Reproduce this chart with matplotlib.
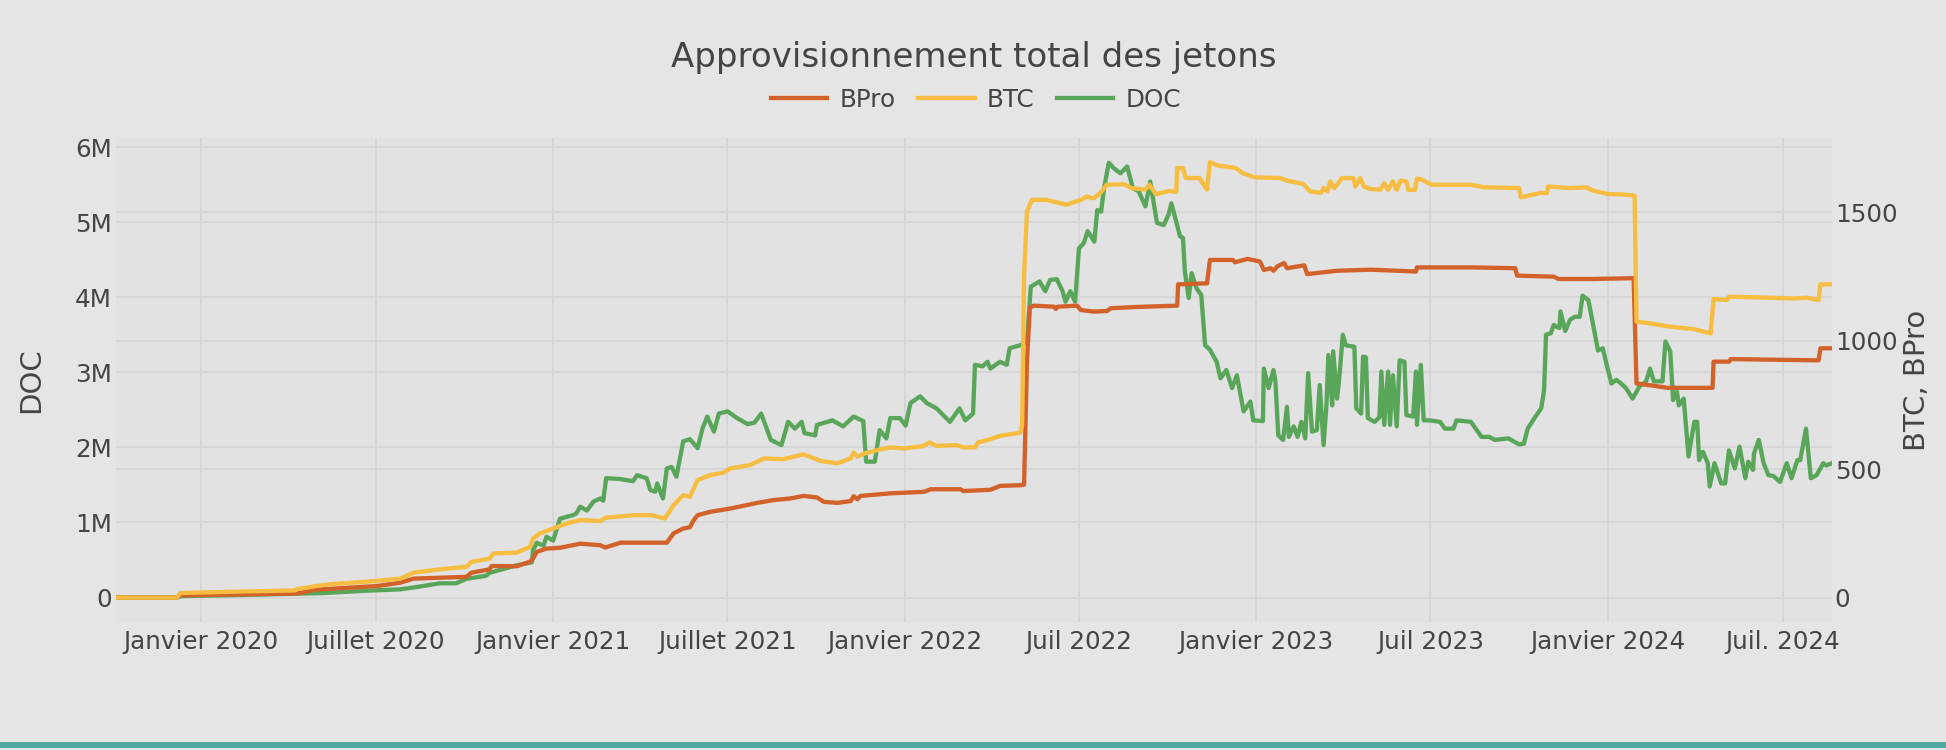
import matplotlib
matplotlib.use("Agg")
import matplotlib.pyplot as plt
import pandas as pd
from matplotlib.patches import Rectangle
from matplotlib.lines import Line2D

# BPro (right axis)
bpro_dates = [
    "2019-10-05", "2019-12-07", "2019-12-11", "2020-04-10", "2020-04-30", "2020-07-02",
    "2020-07-26", "2020-08-09", "2020-10-03", "2020-10-08", "2020-10-27", "2020-10-29",
    "2020-11-24", "2020-12-08", "2020-12-11", "2020-12-15", "2020-12-25", "2021-01-08",
    "2021-01-29", "2021-02-19", "2021-02-24", "2021-03-12", "2021-04-29", "2021-05-06",
    "2021-05-16", "2021-05-23", "2021-05-27", "2021-05-31", "2021-06-13", "2021-07-04",
    "2021-08-01", "2021-08-18", "2021-09-04", "2021-09-18", "2021-10-02", "2021-10-09",
    "2021-10-23", "2021-11-06", "2021-11-09", "2021-11-13", "2021-11-16", "2021-12-17",
    "2022-01-21", "2022-01-28", "2022-02-28", "2022-03-03", "2022-03-31", "2022-04-10",
    "2022-05-03", "2022-05-05", "2022-05-08", "2022-05-11", "2022-05-15", "2022-06-05",
    "2022-06-07", "2022-06-09", "2022-06-29", "2022-07-03", "2022-07-16", "2022-07-30",
    "2022-08-03", "2022-08-30", "2022-10-11", "2022-10-12", "2022-11-11", "2022-11-14",
    "2022-12-08", "2022-12-10", "2022-12-23", "2023-01-05", "2023-01-09", "2023-01-16",
    "2023-01-19", "2023-01-23", "2023-01-30", "2023-02-02", "2023-02-20", "2023-02-23",
    "2023-03-26", "2023-04-30", "2023-06-16", "2023-06-17", "2023-08-12", "2023-09-27",
    "2023-09-29", "2023-11-06", "2023-11-11", "2023-12-18", "2024-01-28", "2024-01-31",
    "2024-02-18", "2024-03-03", "2024-04-19", "2024-04-20", "2024-05-06", "2024-05-08",
    "2024-08-07", "2024-08-09", "2024-08-21",
]
bpro_values = [
    0, 0, 9, 16, 31, 45,
    58, 74, 81, 97, 110, 123,
    122, 140, 152, 178, 191, 194,
    210, 204, 195, 214, 214, 250,
    269, 274, 302, 321, 334, 347,
    369, 380, 386, 396, 390, 373,
    369, 376, 395, 383, 396, 406,
    412, 422, 422, 415, 420, 435,
    438, 440, 919, 1130, 1137, 1133,
    1124, 1133, 1137, 1120, 1114, 1116,
    1127, 1132, 1137, 1220, 1224, 1315,
    1315, 1306, 1319, 1309, 1276, 1283,
    1273, 1290, 1303, 1283, 1294, 1260,
    1273, 1277, 1270, 1286, 1286, 1283,
    1254, 1250, 1241, 1241, 1244, 834,
    825, 817, 817, 919, 919, 929,
    924, 971, 971,
]

# BTC (right axis)
btc_dates = [
    "2019-10-05", "2019-12-07", "2019-12-11", "2020-02-15", "2020-04-08", "2020-04-10",
    "2020-04-30", "2020-05-14", "2020-07-02", "2020-07-26", "2020-08-09", "2020-09-05",
    "2020-10-03", "2020-10-08", "2020-10-27", "2020-10-31", "2020-11-24", "2020-12-08",
    "2020-12-11", "2020-12-18", "2021-01-01", "2021-01-15", "2021-01-29", "2021-02-19",
    "2021-02-24", "2021-03-26", "2021-04-13", "2021-04-27", "2021-05-06", "2021-05-16",
    "2021-05-23", "2021-05-27", "2021-05-31", "2021-06-13", "2021-06-27", "2021-07-04",
    "2021-07-24", "2021-08-08", "2021-08-28", "2021-09-18", "2021-10-06", "2021-10-23",
    "2021-11-06", "2021-11-09", "2021-11-13", "2021-11-20", "2021-12-04", "2021-12-17",
    "2021-12-31", "2022-01-20", "2022-01-27", "2022-02-03", "2022-02-24", "2022-03-03",
    "2022-03-15", "2022-03-18", "2022-03-31", "2022-04-10", "2022-05-01", "2022-05-03",
    "2022-05-05", "2022-05-08", "2022-05-13", "2022-05-28", "2022-06-18", "2022-07-03",
    "2022-07-09", "2022-07-16", "2022-07-23", "2022-07-30", "2022-08-17", "2022-08-24",
    "2022-09-08", "2022-09-12", "2022-09-19", "2022-10-03", "2022-10-10", "2022-10-11",
    "2022-10-17", "2022-10-20", "2022-11-03", "2022-11-11", "2022-11-14", "2022-11-22",
    "2022-12-11", "2022-12-18", "2022-12-30", "2023-01-26", "2023-02-02", "2023-02-19",
    "2023-02-26", "2023-03-09", "2023-03-12", "2023-03-16", "2023-03-19", "2023-03-23",
    "2023-03-26", "2023-03-31", "2023-04-12", "2023-04-14", "2023-04-19", "2023-04-23",
    "2023-04-30", "2023-05-10", "2023-05-14", "2023-05-18", "2023-05-23", "2023-05-27",
    "2023-05-31", "2023-06-06", "2023-06-08", "2023-06-15", "2023-06-17", "2023-06-22",
    "2023-07-02", "2023-08-12", "2023-08-26", "2023-10-01", "2023-10-03", "2023-10-23",
    "2023-10-30", "2023-10-31", "2023-11-23", "2023-12-10", "2023-12-17", "2024-01-01",
    "2024-01-18", "2024-01-29", "2024-01-31", "2024-02-14", "2024-03-06", "2024-03-30",
    "2024-04-17", "2024-04-20", "2024-05-04", "2024-05-06", "2024-06-08", "2024-07-12",
    "2024-07-26", "2024-08-07", "2024-08-09", "2024-08-21",
]
btc_values = [
    0, 0, 18, 24, 28, 33,
    45, 52, 65, 74, 97, 110,
    120, 139, 152, 172, 175, 198,
    230, 250, 269, 289, 302, 298,
    311, 321, 321, 308, 360, 399,
    393, 425, 458, 477, 487, 503,
    516, 542, 539, 558, 532, 523,
    542, 565, 549, 561, 575, 585,
    581, 590, 604, 591, 594, 585,
    585, 604, 617, 630, 642, 672,
    1257, 1504, 1549, 1549, 1530, 1549,
    1562, 1555, 1575, 1608, 1610, 1595,
    1589, 1608, 1571, 1584, 1580, 1673,
    1673, 1634, 1634, 1589, 1696, 1683,
    1673, 1653, 1637, 1634, 1624, 1611,
    1582, 1576, 1595, 1582, 1621, 1595,
    1608, 1634, 1634, 1601, 1634, 1601,
    1591, 1589, 1614, 1588, 1621, 1588,
    1624, 1621, 1588, 1588, 1632, 1628,
    1608, 1608, 1598, 1595, 1559, 1576,
    1576, 1601, 1595, 1598, 1585, 1572,
    1570, 1565, 1075, 1068, 1055, 1046,
    1029, 1163, 1159, 1172, 1169, 1165,
    1168, 1159, 1220, 1220,
]

# DOC (left axis, millions)
doc_dates = [
    "2019-10-05", "2019-12-07", "2019-12-12", "2020-01-27", "2020-05-07", "2020-06-18",
    "2020-07-26", "2020-08-12", "2020-09-05", "2020-09-22", "2020-10-03", "2020-10-23",
    "2020-10-27", "2020-11-13", "2020-11-24", "2020-12-10", "2020-12-11", "2020-12-15",
    "2020-12-22", "2020-12-25", "2021-01-01", "2021-01-08", "2021-01-22", "2021-01-25",
    "2021-01-29", "2021-02-05", "2021-02-12", "2021-02-19", "2021-02-22", "2021-02-25",
    "2021-03-11", "2021-03-25", "2021-03-29", "2021-04-08", "2021-04-12", "2021-04-17",
    "2021-04-19", "2021-04-25", "2021-04-29", "2021-05-04", "2021-05-09", "2021-05-16",
    "2021-05-23", "2021-05-31", "2021-06-05", "2021-06-10", "2021-06-17", "2021-06-22",
    "2021-07-01", "2021-07-11", "2021-07-22", "2021-07-29", "2021-08-05", "2021-08-15",
    "2021-08-26", "2021-09-02", "2021-09-09", "2021-09-16", "2021-09-19", "2021-09-30",
    "2021-10-02", "2021-10-18", "2021-10-29", "2021-11-09", "2021-11-19", "2021-11-22",
    "2021-12-01", "2021-12-06", "2021-12-13", "2021-12-17", "2021-12-27", "2022-01-02",
    "2022-01-07", "2022-01-17", "2022-01-24", "2022-02-03", "2022-02-17", "2022-02-27",
    "2022-03-05", "2022-03-13", "2022-03-15", "2022-03-23", "2022-03-28", "2022-03-31",
    "2022-04-10", "2022-04-17", "2022-04-20", "2022-05-01", "2022-05-08", "2022-05-12",
    "2022-05-21", "2022-05-27", "2022-06-01", "2022-06-08", "2022-06-14", "2022-06-17",
    "2022-06-22", "2022-06-27", "2022-07-01", "2022-07-06", "2022-07-10", "2022-07-17",
    "2022-07-20", "2022-07-24", "2022-07-27", "2022-08-01", "2022-08-06", "2022-08-13",
    "2022-08-20", "2022-08-26", "2022-09-01", "2022-09-08", "2022-09-13", "2022-09-20",
    "2022-09-27", "2022-10-02", "2022-10-05", "2022-10-14", "2022-10-17", "2022-10-19",
    "2022-10-23", "2022-10-26", "2022-10-31", "2022-11-05", "2022-11-09", "2022-11-14",
    "2022-11-21", "2022-11-25", "2022-12-01", "2022-12-07", "2022-12-12", "2022-12-19",
    "2022-12-26", "2022-12-29", "2023-01-08", "2023-01-09", "2023-01-14", "2023-01-19",
    "2023-01-21", "2023-01-24", "2023-01-29", "2023-02-02", "2023-02-04", "2023-02-09",
    "2023-02-13", "2023-02-17", "2023-02-21", "2023-02-24", "2023-02-28", "2023-03-05",
    "2023-03-08", "2023-03-12", "2023-03-15", "2023-03-17", "2023-03-21", "2023-03-22",
    "2023-03-26", "2023-03-28", "2023-04-01", "2023-04-04", "2023-04-13", "2023-04-15",
    "2023-04-20", "2023-04-22", "2023-04-25", "2023-04-27", "2023-05-04", "2023-05-09",
    "2023-05-11", "2023-05-14", "2023-05-18", "2023-05-20", "2023-05-23", "2023-05-27",
    "2023-05-30", "2023-06-04", "2023-06-06", "2023-06-13", "2023-06-16", "2023-06-17",
    "2023-06-21", "2023-06-24", "2023-06-30", "2023-07-11", "2023-07-16", "2023-07-25",
    "2023-07-28", "2023-08-12", "2023-08-23", "2023-08-31", "2023-09-06", "2023-09-20",
    "2023-10-01", "2023-10-06", "2023-10-10", "2023-10-17", "2023-10-24", "2023-10-27",
    "2023-10-29", "2023-11-03", "2023-11-06", "2023-11-10", "2023-11-12", "2023-11-13",
    "2023-11-18", "2023-11-23", "2023-11-28", "2023-12-03", "2023-12-06", "2023-12-12",
    "2023-12-17", "2023-12-22", "2023-12-27", "2023-12-31", "2024-01-05", "2024-01-10",
    "2024-01-15", "2024-01-20", "2024-01-27", "2024-02-03", "2024-02-10", "2024-02-14",
    "2024-02-18", "2024-02-27", "2024-03-01", "2024-03-06", "2024-03-09", "2024-03-13",
    "2024-03-15", "2024-03-20", "2024-03-25", "2024-03-31", "2024-04-03", "2024-04-05",
    "2024-04-09", "2024-04-14", "2024-04-16", "2024-04-21", "2024-04-28", "2024-05-02",
    "2024-05-06", "2024-05-12", "2024-05-17", "2024-05-23", "2024-05-26", "2024-05-31",
    "2024-06-01", "2024-06-06", "2024-06-11", "2024-06-16", "2024-06-21", "2024-06-28",
    "2024-07-05", "2024-07-10", "2024-07-16", "2024-07-19", "2024-07-25", "2024-07-30",
    "2024-08-05", "2024-08-12", "2024-08-15", "2024-08-21",
]
doc_values = [
    0.0, 0.0, 0.02, 0.03, 0.06, 0.09,
    0.11, 0.14, 0.19, 0.19, 0.25, 0.29,
    0.33, 0.39, 0.43, 0.47, 0.63, 0.73,
    0.69, 0.81, 0.76, 1.05, 1.10, 1.12,
    1.21, 1.16, 1.28, 1.32, 1.29, 1.59,
    1.58, 1.55, 1.63, 1.59, 1.43, 1.41,
    1.52, 1.32, 1.72, 1.74, 1.61, 2.08,
    2.11, 1.99, 2.25, 2.41, 2.21, 2.45,
    2.48, 2.39, 2.31, 2.33, 2.45, 2.10,
    2.03, 2.34, 2.25, 2.34, 2.19, 2.16,
    2.30, 2.36, 2.28, 2.41, 2.35, 1.81,
    1.81, 2.23, 2.12, 2.39, 2.39, 2.29,
    2.59, 2.68, 2.59, 2.52, 2.34, 2.52,
    2.36, 2.45, 3.10, 3.08, 3.14, 3.05,
    3.14, 3.10, 3.32, 3.36, 3.41, 4.14,
    4.21, 4.08, 4.23, 4.24, 4.08, 3.94,
    4.08, 3.94, 4.65, 4.72, 4.88, 4.74,
    5.16, 5.14, 5.45, 5.79, 5.72, 5.65,
    5.74, 5.45, 5.41, 5.21, 5.54, 4.99,
    4.96, 5.10, 5.25, 4.81, 4.79, 4.34,
    3.99, 4.32, 4.12, 4.03, 3.36, 3.30,
    3.14, 2.92, 3.03, 2.79, 2.96, 2.48,
    2.61, 2.36, 2.35, 3.05, 2.79, 3.03,
    2.88, 2.16, 2.10, 2.54, 2.14, 2.28,
    2.14, 2.34, 2.12, 2.99, 2.21, 2.23,
    2.83, 2.03, 2.56, 3.23, 2.56, 3.28,
    2.65, 2.88, 3.50, 3.36, 3.34, 2.52,
    2.45, 3.21, 3.20, 2.39, 2.34, 2.40,
    3.01, 2.30, 3.01, 2.30, 2.96, 2.28,
    3.16, 3.14, 2.43, 2.41, 3.01, 2.30,
    3.10, 2.36, 2.36, 2.34, 2.25, 2.25,
    2.36, 2.34, 2.14, 2.14, 2.10, 2.12,
    2.04, 2.05, 2.25, 2.39, 2.52, 2.76,
    3.50, 3.52, 3.63, 3.60, 3.59, 3.81,
    3.55, 3.70, 3.74, 3.74, 4.02, 3.96,
    3.63, 3.29, 3.32, 3.10, 2.85, 2.90,
    2.85, 2.79, 2.65, 2.81, 2.88, 3.05,
    2.88, 2.88, 3.41, 3.28, 2.63, 2.74,
    2.56, 2.65, 1.88, 2.34, 2.34, 1.83,
    1.94, 1.79, 1.48, 1.79, 1.52, 1.52,
    1.96, 1.72, 2.01, 1.59, 1.81, 1.70,
    1.92, 2.10, 1.79, 1.63, 1.62, 1.54,
    1.79, 1.59, 1.83, 1.83, 2.25, 1.59,
    1.63, 1.79, 1.76, 1.79,
]

tick_dates = ["2020-01-01", "2020-07-01", "2021-01-01", "2021-07-01", "2022-01-01",
              "2022-07-01", "2023-01-01", "2023-07-01", "2024-01-01", "2024-07-01"]
tick_labels = ["Janvier 2020", "Juillet 2020", "Janvier 2021", "Juillet 2021", "Janvier 2022",
               "Juil 2022", "Janvier 2023", "Juil 2023", "Janvier 2024", "Juil. 2024"]
doc_ticks = [0, 1, 2, 3, 4, 5, 6]
doc_tick_labels = ["0", "1M", "2M", "3M", "4M", "5M", "6M"]
right_ticks = [0, 500, 1000, 1500]

C_BPRO = "#d2622a"
C_BTC = "#f7bd40"
C_DOC = "#59a65b"
TXT = "#444444"
GRID = "#d5d5d5"
LW = 3.1

W, H = 1946, 750
fig = plt.figure(figsize=(W / 100, H / 100), dpi=100)
fig.patch.set_facecolor("#e5e5e5")

# plot area in pixels
left, right, top, bottom = 116, 1832, 138, 622
ax = fig.add_axes([left / W, 1 - bottom / H, (right - left) / W, (bottom - top) / H])
ax.set_facecolor("#e2e2e2")
ax2 = ax.twinx()

ax.plot(pd.to_datetime(doc_dates), doc_values, color=C_DOC, lw=LW)
ax2.plot(pd.to_datetime(bpro_dates), bpro_values, color=C_BPRO, lw=LW)
ax2.plot(pd.to_datetime(btc_dates), btc_values, color=C_BTC, lw=LW)

ax.set_xlim(pd.Timestamp("2019-10-05"), pd.Timestamp("2024-08-21"))
ax.set_ylim(-0.325, 6.12)
ax2.set_ylim(-95, 1790)

ax.set_xticks(pd.to_datetime(tick_dates))
ax.set_xticklabels(tick_labels)
ax.set_yticks(doc_ticks)
ax.set_yticklabels(doc_tick_labels)
ax2.set_yticks(right_ticks)

for a in (ax, ax2):
    for s in a.spines.values():
        s.set_visible(False)
ax.tick_params(axis="x", length=0, labelsize=17.7, colors=TXT, pad=6)
ax.tick_params(axis="y", length=0, labelsize=17.7, colors=TXT, pad=3)
ax2.tick_params(axis="y", length=0, labelsize=17.7, colors=TXT, pad=2)

# grid: all drawn on the bottom axes so lines sit on top
ax.set_axisbelow(True)
ax.grid(True, color=GRID, lw=1.3)
for v in right_ticks[1:]:
    y = ax.transData.inverted().transform(ax2.transData.transform((0, v)))[1]
    ax.axhline(y, color=GRID, lw=1.3, zorder=0.5)

fig.text(974 / W, 1 - 57 / H, "Approvisionnement total des jetons", ha="center", va="center",
         fontsize=24.5, color=TXT)
fig.text(31 / W, 1 - 380 / H, "DOC", rotation=90, ha="center", va="center",
         fontsize=21, color=TXT)
fig.text(1917 / W, 1 - 380 / H, "BTC, BPro", rotation=90, ha="center", va="center",
         fontsize=21, color=TXT)

handles = [Line2D([], [], color=c, lw=LW) for c in (C_BPRO, C_BTC, C_DOC)]
fig.legend(handles, ["BPro", "BTC", "DOC"], loc="center", bbox_to_anchor=(976 / W, 1 - 100 / H),
           ncol=3, frameon=False, fontsize=17.7, labelcolor=TXT, handlelength=2.3,
           handletextpad=0.5, columnspacing=0.9)

# teal band at the bottom of the page
fig.add_artist(Rectangle((0, 1.7 / H), 1, 6.6 / H, transform=fig.transFigure,
                         color="#52aba0", lw=0))

fig.savefig("out.png", dpi=100, facecolor=fig.get_facecolor())
